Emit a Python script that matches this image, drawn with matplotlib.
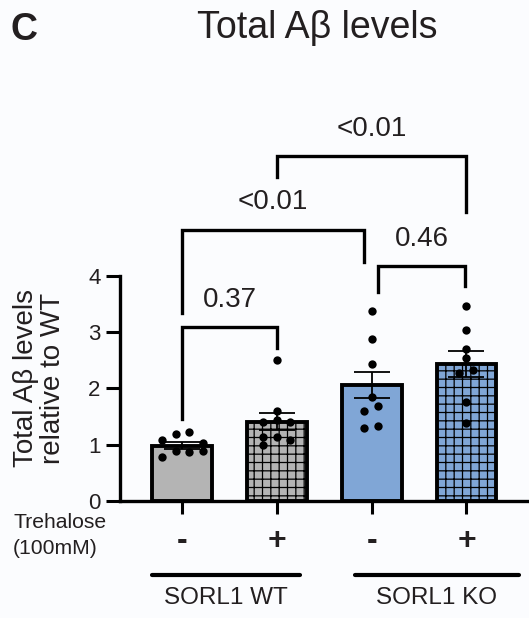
import matplotlib.pyplot as plt
import matplotlib.transforms as mtransforms
import numpy as np

plt.rcParams['font.family'] = ['Liberation Sans', 'DejaVu Sans']
plt.rcParams['hatch.linewidth'] = 0.9

# data
groups = ['WT -', 'WT +', 'KO -', 'KO +']
means = [0.98, 1.41, 2.06, 2.44]
sems = [0.06, 0.15, 0.23, 0.23]
colors = ['#b4b4b4', '#b4b4b4', '#80a6d6', '#80a6d6']
hatches = [None, '++', None, '++']

pts_wt_minus = [1.08, 1.19, 1.23, 1.03, 0.78, 0.89, 0.87, 0.89]
pts_wt_plus = [1.60, 1.40, 1.44, 1.40, 1.14, 1.14, 1.08, 1.00, 2.51]
pts_ko_minus = [3.38, 2.88, 2.43, 1.85, 1.60, 1.69, 1.30, 1.33]
pts_ko_plus = [3.47, 3.04, 2.70, 2.54, 2.28, 2.33, 1.76, 1.39]
points = [pts_wt_minus, pts_wt_plus, pts_ko_minus, pts_ko_plus]

# horizontal scatter of the dots (bar-width units)
jit_wt_minus = [-0.21, -0.06, 0.07, 0.22, -0.21, -0.06, 0.07, 0.22]
jit_wt_plus = [0.0, -0.15, 0.0, 0.14, -0.15, 0.0, 0.14, -0.15, 0.0]
jit_ko_minus = [0.0, 0.0, 0.0, 0.0, -0.08, 0.07, -0.08, 0.07]
jit_ko_plus = [0.0, 0.0, 0.0, 0.0, -0.08, 0.07, 0.0, 0.0]
jitter = [jit_wt_minus, jit_wt_plus, jit_ko_minus, jit_ko_plus]

treatment = ['-', '+', '-', '+']
pvals = ['0.37', '<0.01', '0.46', '<0.01']

fig = plt.figure(figsize=(5.29, 6.18), dpi=100, facecolor='#fbfcfe')
ax = fig.add_axes([120 / 529, 117 / 618, 409 / 529, 394 / 618])
ax.set_facecolor('none')

x = np.arange(len(groups))
ax.bar(x, means, width=0.63, color=colors, edgecolor='black', linewidth=2.8,
       hatch=hatches, zorder=2)
ax.errorbar(x, means, yerr=sems, fmt='none', ecolor='black', elinewidth=1.3,
            capsize=13, capthick=1.3, zorder=3)
for i in range(len(groups)):
    ax.scatter(x[i] + np.array(jitter[i]), points[i], s=36, color='black',
               zorder=4, linewidths=0)

ax.set_xlim(-0.655, 3.66)
ax.set_ylim(0, 7)
ax.spines['left'].set_bounds(0, 4)
for s in ['top', 'right']:
    ax.spines[s].set_visible(False)
ax.spines['left'].set_linewidth(2.4)
ax.spines['bottom'].set_linewidth(2.4)
ax.set_yticks([0, 1, 2, 3, 4])
ax.set_xticks(x)
ax.set_xticklabels([])
ax.tick_params(axis='y', length=10, width=2.2, labelsize=16, pad=4,
               labelcolor='#231f20')
ax.tick_params(axis='x', length=9, width=2.2)


def bracket(x1, x2, y, d1, d2, label, ty):
    ax.plot([x1, x1, x2, x2], [d1, y, y, d2], color='black', lw=2.4,
            clip_on=False, solid_joinstyle='miter')
    ax.text((x1 + x2) / 2, ty, label, ha='center', va='center', fontsize=20,
            color='#231f20')


bracket(0, 1, 3.09, 1.46, 2.72, pvals[0], 3.57)
bracket(0, 1.92, 4.82, 3.34, 4.25, pvals[1], 5.32)
bracket(2.07, 2.99, 4.18, 3.72, 3.82, pvals[2], 4.66)
bracket(1.0, 3.0, 6.13, 5.76, 5.14, pvals[3], 6.61)

trans = mtransforms.blended_transform_factory(ax.transData, fig.transFigure)
for i in range(len(groups)):
    ax.text(x[i], 1 - 541 / 618, treatment[i], transform=trans, ha='center',
            va='center', fontsize=23, fontweight='bold', color='#231f20')

ax.plot([-0.32, 1.24], [1 - 575 / 618] * 2, transform=trans, color='black',
        lw=3, solid_capstyle='round', clip_on=False)
ax.plot([1.82, 3.55], [1 - 575 / 618] * 2, transform=trans, color='black',
        lw=3, solid_capstyle='round', clip_on=False)
ax.text(0.46, 1 - 598 / 618, 'SORL1 WT', transform=trans, ha='center',
        va='center', fontsize=17.5, color='#231f20')
ax.text(2.68, 1 - 598 / 618, 'SORL1 KO', transform=trans, ha='center',
        va='center', fontsize=17.5, color='#231f20')

fig.text(13 / 529, 1 - 523 / 618, 'Trehalose', ha='left', va='center',
         fontsize=15.2, color='#231f20')
fig.text(13 / 529, 1 - 548 / 618, '(100mM)', ha='left', va='center',
         fontsize=15.2, color='#231f20')

fig.text(40 / 529, 1 - 378 / 618, 'Total Aβ levels\nrelative to WT',
         rotation=90, ha='center', va='center', multialignment='center',
         fontsize=20, color='#231f20', linespacing=1.05)

fig.text(10 / 529, 1 - 30 / 618, 'C', ha='left', va='center', fontsize=27,
         fontweight='bold', color='#231f20')
fig.text(317 / 529, 1 - 28 / 618, 'Total Aβ levels', ha='center',
         va='center', fontsize=27, color='#231f20')

fig.savefig('out.png', dpi=100, facecolor=fig.get_facecolor())
